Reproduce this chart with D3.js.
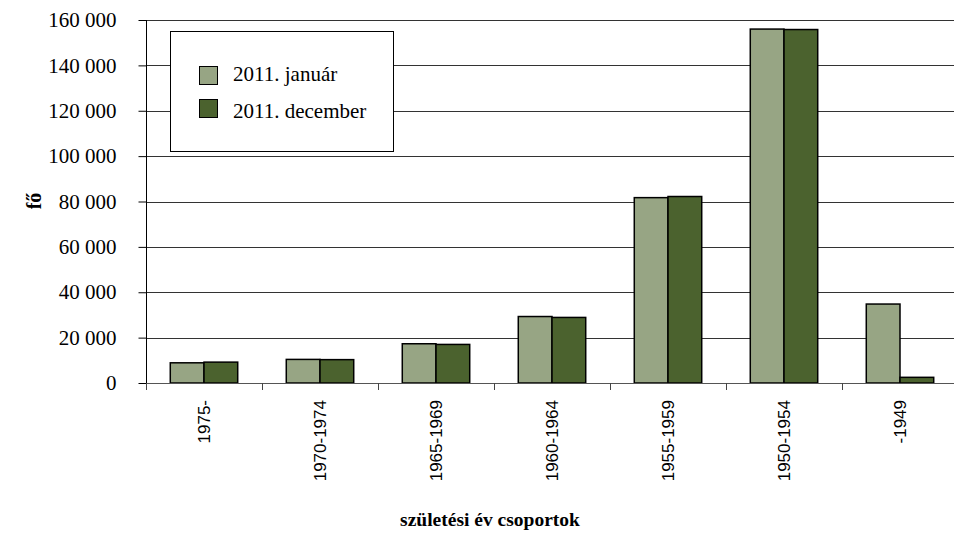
<!DOCTYPE html>
<html><head><meta charset="utf-8">
<script src="https://cdn.jsdelivr.net/npm/d3@7"></script>
<style>body{margin:0;background:#fff}svg{display:block}text{font-family:"Liberation Serif","DejaVu Serif",serif;fill:#000}</style>
</head><body><svg id="c" width="954" height="537"></svg>
<script>
const categories = ["1975-","1970-1974","1965-1969","1960-1964","1955-1959","1950-1954","-1949"];
const seriesNames = ["2011. január","2011. december"];
const january = [8900,10400,17300,29300,81700,156000,34800];
const december = [9200,10300,17000,28900,82200,155800,2500];
const yTicks = [0,20000,40000,60000,80000,100000,120000,140000,160000];
const colors = ["#97A584","#4B622E"];

const svg = d3.select("#c");
const L=146, R=958, T=20, B=383;
const x = d3.scaleBand().domain(categories).range([L,R]).paddingInner(0).paddingOuter(0);
const y = d3.scaleLinear().domain([0,160000]).range([B,T]);
const inner = d3.scaleBand().domain([0,1]).range([0,x.bandwidth()]).paddingOuter(0.72).paddingInner(0);
const fmt = v => d3.format(",")(v).replace(/,/g," ");

// gridlines
svg.append("g").selectAll("line").data(yTicks.slice(1)).join("line")
  .attr("x1",L).attr("x2",R).attr("y1",d=>Math.round(y(d))+0.5).attr("y2",d=>Math.round(y(d))+0.5)
  .attr("stroke","#333").attr("stroke-width",1);

// bars
const data = [january, december];
categories.forEach((c,i)=>{
  data.forEach((s,j)=>{
    svg.append("rect").attr("x",x(c)+inner(j)).attr("width",inner.bandwidth())
      .attr("y",y(s[i])).attr("height",B-y(s[i]))
      .attr("fill",colors[j]).attr("stroke","#000").attr("stroke-width",1.5);
  });
});

// y axis
const ya = svg.append("g").attr("transform",`translate(${L+0.5},0)`)
  .call(d3.axisLeft(y).tickValues(yTicks).tickFormat(fmt).tickSize(8).tickPadding(22));
ya.attr("font-family",null).attr("font-size",null);
ya.select(".domain").attr("stroke","#000").attr("d",`M0,${T}V${B}`);
ya.selectAll(".tick line").attr("stroke","#000");
ya.selectAll("text").style("font-size","21px").style("font-family","Liberation Serif, serif");

// x axis
svg.append("line").attr("x1",L).attr("x2",R).attr("y1",B+0.5).attr("y2",B+0.5).attr("stroke","#555");
svg.append("g").selectAll("line").data(d3.range(categories.length+1)).join("line")
  .attr("x1",i=>Math.round(L+i*x.bandwidth())+0.5).attr("x2",i=>Math.round(L+i*x.bandwidth())+0.5)
  .attr("y1",B).attr("y2",B+7).attr("stroke","#444");
svg.append("g").selectAll("text").data(categories).join("text")
  .attr("transform",d=>`translate(${x(d)+x.bandwidth()/2+6},${B+17}) rotate(-90)`)
  .attr("text-anchor","end").style("font-size","17px").style("font-family","Liberation Sans, Arial, sans-serif").text(d=>d);

// axis titles
svg.append("text").attr("transform","translate(41,201) rotate(-90)").attr("text-anchor","middle")
  .style("font-size","20px").style("font-weight","bold").text("fő");
svg.append("text").attr("x",490).attr("y",526).attr("text-anchor","middle")
  .style("font-size","19.5px").style("font-weight","bold").text("születési év csoportok");

// legend
const lg = svg.append("g");
lg.append("rect").attr("x",170.5).attr("y",31.5).attr("width",223).attr("height",120).attr("fill","#fff").attr("stroke","#000");
const swY = [66, 99], txY = [81, 118];
seriesNames.forEach((n,j)=>{
  lg.append("rect").attr("x",199.5).attr("y",swY[j]+0.5).attr("width",18).attr("height",18).attr("fill",colors[j]).attr("stroke","#000");
  lg.append("text").attr("x",233).attr("y",txY[j]).style("font-size","21px").text(n);
});
</script></body></html>
